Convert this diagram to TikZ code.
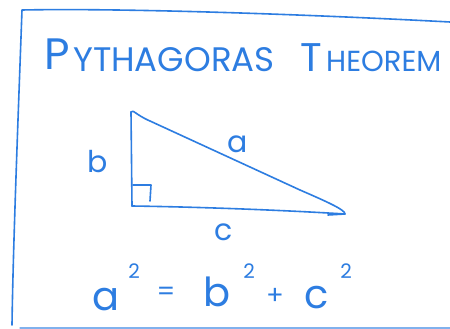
\documentclass[tikz,border=0pt]{standalone}
\usepackage{fontspec}
\setmainfont{Poppins}
\definecolor{ink}{RGB}{45,125,225}
\begin{document}
\begin{tikzpicture}[x=1pt,y=-1pt,
  pen/.style={draw=ink,line width=1.6pt,line cap=round,line join=round},
  hand/.style={text=ink,inner sep=0pt,font=\fontsize{#1}{#1}\selectfont},
  hand/.default=30]
\useasboundingbox[fill=white] (0,0) rectangle (450,329);
% frame
\coordinate (f1) at (22,10);
\coordinate (f2) at (450,22);
\coordinate (f3) at (12,325);
\coordinate (f4) at (20,328);
\coordinate (f5) at (450,328);
\draw[pen] (f2) .. controls (300,14) and (120,8) .. (f1) .. controls (18,120) and (13,250) .. (f3);
\draw[pen,draw=ink!60,line width=1.2pt] (f4) -- (f5);
% title
\node[hand=44,anchor=base west] (tp) at (44,70) {P};
\node[hand=34,anchor=base west] (tw1) at (73,72) {YTHAGORAS};
\node[hand=40,anchor=base west] (tt) at (300,72) {T};
\node[hand=29,anchor=base west] (tw2) at (326,72) {HEOREM};
% triangle
\coordinate (A) at (131,112);
\coordinate (B) at (132,206);
\coordinate (C) at (345,214);
\draw[pen] (A) .. controls (133,109) and (136,115) .. (150,121) -- (300,190) .. controls (330,203) and (345,210) .. (C);
\draw[pen] (A) -- (B);
\draw[pen] (B) .. controls (200,207) and (280,210) .. (C) (C) -- (328,215);
\coordinate (r1) at (133,185);
\coordinate (r2) at (151,185);
\coordinate (r3) at (150,201);
\draw[pen] (r1) -- (r2) -- (r3);
% side labels
\node[hand=30] (lb) at (98,162) {b};
\node[hand=30] (la) at (238,144) {a};
\node[hand=30] (lc) at (224,232) {c};
% equation
\node[hand=40,anchor=base] (ea) at (106,310) {a};
\node[hand=20,anchor=base] (e2a) at (134,278) {2};
\node[hand=26,anchor=base] (eq) at (166,300) {=};
\node[hand=40,anchor=base] (eb) at (217,306) {b};
\node[hand=20,anchor=base] (e2b) at (249,278) {2};
\node[hand=26,anchor=base] (ep) at (275,304) {+};
\node[hand=40,anchor=base] (ec) at (317,308) {c};
\node[hand=20,anchor=base] (e2c) at (346,278) {2};
\end{tikzpicture}
\end{document}
